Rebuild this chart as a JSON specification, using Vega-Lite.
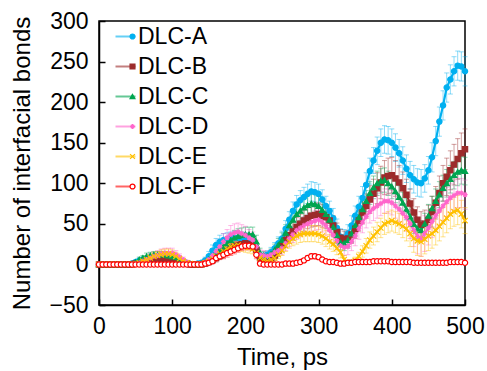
{
"$schema": "https://vega.github.io/schema/vega-lite/v6.json",
"width": 366, "height": 284,
"autosize": {"type": "none"},
"padding": {"left": 99, "top": 21, "right": 22, "bottom": 66},
"config": {
  "font": "Liberation Sans",
  "view": {"stroke": "black", "strokeWidth": 1.5},
  "axis": {"grid": false, "domainColor": "black", "domainWidth": 1.5, "tickColor": "black", "tickWidth": 1.5, "tickSize": -6, "labelFontSize": 23, "labelColor": "black", "titleFontSize": 24, "titleFontWeight": "normal", "titleColor": "black", "labelFont": "Liberation Sans", "titleFont": "Liberation Sans"}
},
"data": {"values": [
{"t":0,"s":"A","v":0,"e":0},{"t":5,"s":"A","v":0,"e":0},{"t":10,"s":"A","v":0,"e":0},{"t":15,"s":"A","v":0,"e":0},{"t":20,"s":"A","v":0,"e":0},{"t":25,"s":"A","v":0,"e":0},{"t":30,"s":"A","v":0,"e":0},{"t":35,"s":"A","v":0,"e":0},{"t":40,"s":"A","v":0,"e":0},{"t":45,"s":"A","v":1,"e":1},
{"t":50,"s":"A","v":3,"e":2},{"t":55,"s":"A","v":5,"e":2},{"t":60,"s":"A","v":6,"e":3},{"t":65,"s":"A","v":7,"e":3},{"t":70,"s":"A","v":8,"e":3},{"t":75,"s":"A","v":9,"e":3},{"t":80,"s":"A","v":10,"e":3},{"t":85,"s":"A","v":10,"e":3},{"t":90,"s":"A","v":9,"e":3},{"t":95,"s":"A","v":8,"e":3},
{"t":100,"s":"A","v":7,"e":3},{"t":105,"s":"A","v":5,"e":2},{"t":110,"s":"A","v":4,"e":2},{"t":115,"s":"A","v":2,"e":2},{"t":120,"s":"A","v":1,"e":1},{"t":125,"s":"A","v":0,"e":1},{"t":130,"s":"A","v":0,"e":1},{"t":135,"s":"A","v":1,"e":1},{"t":140,"s":"A","v":2,"e":2},{"t":145,"s":"A","v":5,"e":4},
{"t":150,"s":"A","v":10,"e":6},{"t":155,"s":"A","v":17,"e":7},{"t":160,"s":"A","v":24,"e":8},{"t":165,"s":"A","v":28,"e":8},{"t":170,"s":"A","v":30,"e":8},{"t":175,"s":"A","v":31,"e":8},{"t":180,"s":"A","v":32,"e":8},{"t":185,"s":"A","v":33,"e":8},{"t":190,"s":"A","v":33,"e":8},{"t":195,"s":"A","v":32,"e":8},
{"t":200,"s":"A","v":31,"e":8},{"t":205,"s":"A","v":29,"e":8},{"t":210,"s":"A","v":27,"e":8},{"t":215,"s":"A","v":20,"e":7},{"t":220,"s":"A","v":9,"e":5},{"t":225,"s":"A","v":10,"e":5},{"t":230,"s":"A","v":12,"e":5},{"t":235,"s":"A","v":15,"e":6},{"t":240,"s":"A","v":20,"e":7},{"t":245,"s":"A","v":26,"e":8},
{"t":250,"s":"A","v":32,"e":9},{"t":255,"s":"A","v":44,"e":10},{"t":260,"s":"A","v":55,"e":10},{"t":265,"s":"A","v":66,"e":11},{"t":270,"s":"A","v":74,"e":11},{"t":275,"s":"A","v":79,"e":12},{"t":280,"s":"A","v":83,"e":12},{"t":285,"s":"A","v":87,"e":12},{"t":290,"s":"A","v":90,"e":12},{"t":295,"s":"A","v":89,"e":12},
{"t":300,"s":"A","v":87,"e":12},{"t":305,"s":"A","v":80,"e":12},{"t":310,"s":"A","v":72,"e":12},{"t":315,"s":"A","v":66,"e":12},{"t":320,"s":"A","v":57,"e":12},{"t":325,"s":"A","v":45,"e":11},{"t":330,"s":"A","v":34,"e":10},{"t":335,"s":"A","v":33,"e":10},{"t":340,"s":"A","v":38,"e":11},{"t":345,"s":"A","v":48,"e":12},
{"t":350,"s":"A","v":60,"e":12},{"t":355,"s":"A","v":71,"e":13},{"t":360,"s":"A","v":82,"e":14},{"t":365,"s":"A","v":98,"e":15},{"t":370,"s":"A","v":115,"e":16},{"t":375,"s":"A","v":128,"e":16},{"t":380,"s":"A","v":140,"e":17},{"t":385,"s":"A","v":150,"e":17},{"t":390,"s":"A","v":154,"e":17},{"t":395,"s":"A","v":153,"e":17},
{"t":400,"s":"A","v":150,"e":17},{"t":405,"s":"A","v":144,"e":17},{"t":410,"s":"A","v":137,"e":17},{"t":415,"s":"A","v":128,"e":17},{"t":420,"s":"A","v":118,"e":17},{"t":425,"s":"A","v":110,"e":17},{"t":430,"s":"A","v":105,"e":17},{"t":435,"s":"A","v":101,"e":17},{"t":440,"s":"A","v":100,"e":17},{"t":445,"s":"A","v":106,"e":17},
{"t":450,"s":"A","v":116,"e":17},{"t":455,"s":"A","v":132,"e":18},{"t":460,"s":"A","v":152,"e":18},{"t":465,"s":"A","v":176,"e":18},{"t":470,"s":"A","v":196,"e":18},{"t":475,"s":"A","v":218,"e":18},{"t":480,"s":"A","v":228,"e":18},{"t":485,"s":"A","v":238,"e":18},{"t":490,"s":"A","v":245,"e":18},{"t":495,"s":"A","v":244,"e":18},{"t":500,"s":"A","v":238,"e":18},
{"t":0,"s":"B","v":0,"e":0},{"t":5,"s":"B","v":0,"e":0},{"t":10,"s":"B","v":0,"e":0},{"t":15,"s":"B","v":0,"e":0},{"t":20,"s":"B","v":0,"e":0},{"t":25,"s":"B","v":0,"e":0},{"t":30,"s":"B","v":0,"e":0},{"t":35,"s":"B","v":0,"e":0},{"t":40,"s":"B","v":0,"e":0},{"t":45,"s":"B","v":0,"e":0},
{"t":50,"s":"B","v":1,"e":1},{"t":55,"s":"B","v":1,"e":1},{"t":60,"s":"B","v":2,"e":1},{"t":65,"s":"B","v":3,"e":2},{"t":70,"s":"B","v":4,"e":2},{"t":75,"s":"B","v":5,"e":2},{"t":80,"s":"B","v":6,"e":2},{"t":85,"s":"B","v":7,"e":2},{"t":90,"s":"B","v":7,"e":2},{"t":95,"s":"B","v":7,"e":2},
{"t":100,"s":"B","v":6,"e":2},{"t":105,"s":"B","v":5,"e":2},{"t":110,"s":"B","v":4,"e":2},{"t":115,"s":"B","v":2,"e":1},{"t":120,"s":"B","v":1,"e":1},{"t":125,"s":"B","v":0,"e":0},{"t":130,"s":"B","v":0,"e":0},{"t":135,"s":"B","v":0,"e":0},{"t":140,"s":"B","v":0,"e":1},{"t":145,"s":"B","v":1,"e":2},
{"t":150,"s":"B","v":3,"e":3},{"t":155,"s":"B","v":5,"e":4},{"t":160,"s":"B","v":8,"e":5},{"t":165,"s":"B","v":11,"e":5},{"t":170,"s":"B","v":14,"e":6},{"t":175,"s":"B","v":17,"e":6},{"t":180,"s":"B","v":20,"e":6},{"t":185,"s":"B","v":22,"e":6},{"t":190,"s":"B","v":24,"e":6},{"t":195,"s":"B","v":25,"e":6},
{"t":200,"s":"B","v":26,"e":6},{"t":205,"s":"B","v":25,"e":6},{"t":210,"s":"B","v":24,"e":6},{"t":215,"s":"B","v":18,"e":5},{"t":220,"s":"B","v":8,"e":4},{"t":225,"s":"B","v":7,"e":4},{"t":230,"s":"B","v":6,"e":4},{"t":235,"s":"B","v":8,"e":5},{"t":240,"s":"B","v":11,"e":6},{"t":245,"s":"B","v":17,"e":7},
{"t":250,"s":"B","v":24,"e":8},{"t":255,"s":"B","v":30,"e":9},{"t":260,"s":"B","v":36,"e":10},{"t":265,"s":"B","v":41,"e":11},{"t":270,"s":"B","v":46,"e":12},{"t":275,"s":"B","v":50,"e":12},{"t":280,"s":"B","v":54,"e":13},{"t":285,"s":"B","v":57,"e":13},{"t":290,"s":"B","v":60,"e":14},{"t":295,"s":"B","v":61,"e":14},
{"t":300,"s":"B","v":62,"e":14},{"t":305,"s":"B","v":60,"e":14},{"t":310,"s":"B","v":58,"e":14},{"t":315,"s":"B","v":54,"e":13},{"t":320,"s":"B","v":48,"e":12},{"t":325,"s":"B","v":40,"e":11},{"t":330,"s":"B","v":33,"e":10},{"t":335,"s":"B","v":31,"e":10},{"t":340,"s":"B","v":32,"e":10},{"t":345,"s":"B","v":37,"e":11},
{"t":350,"s":"B","v":44,"e":12},{"t":355,"s":"B","v":54,"e":13},{"t":360,"s":"B","v":64,"e":14},{"t":365,"s":"B","v":72,"e":15},{"t":370,"s":"B","v":80,"e":17},{"t":375,"s":"B","v":87,"e":18},{"t":380,"s":"B","v":94,"e":19},{"t":385,"s":"B","v":101,"e":20},{"t":390,"s":"B","v":107,"e":21},{"t":395,"s":"B","v":109,"e":22},
{"t":400,"s":"B","v":110,"e":22},{"t":405,"s":"B","v":106,"e":22},{"t":410,"s":"B","v":101,"e":21},{"t":415,"s":"B","v":94,"e":20},{"t":420,"s":"B","v":86,"e":19},{"t":425,"s":"B","v":75,"e":18},{"t":430,"s":"B","v":64,"e":17},{"t":435,"s":"B","v":55,"e":16},{"t":440,"s":"B","v":49,"e":16},{"t":445,"s":"B","v":50,"e":17},
{"t":450,"s":"B","v":55,"e":18},{"t":455,"s":"B","v":65,"e":19},{"t":460,"s":"B","v":76,"e":20},{"t":465,"s":"B","v":88,"e":21},{"t":470,"s":"B","v":100,"e":22},{"t":475,"s":"B","v":108,"e":23},{"t":480,"s":"B","v":116,"e":24},{"t":485,"s":"B","v":123,"e":25},{"t":490,"s":"B","v":130,"e":25},{"t":495,"s":"B","v":137,"e":25},{"t":500,"s":"B","v":142,"e":25},
{"t":0,"s":"C","v":0,"e":0},{"t":5,"s":"C","v":0,"e":0},{"t":10,"s":"C","v":0,"e":0},{"t":15,"s":"C","v":0,"e":0},{"t":20,"s":"C","v":0,"e":0},{"t":25,"s":"C","v":0,"e":0},{"t":30,"s":"C","v":0,"e":0},{"t":35,"s":"C","v":0,"e":0},{"t":40,"s":"C","v":0,"e":0},{"t":45,"s":"C","v":1,"e":1},
{"t":50,"s":"C","v":3,"e":2},{"t":55,"s":"C","v":6,"e":3},{"t":60,"s":"C","v":8,"e":3},{"t":65,"s":"C","v":10,"e":4},{"t":70,"s":"C","v":11,"e":4},{"t":75,"s":"C","v":12,"e":4},{"t":80,"s":"C","v":12,"e":4},{"t":85,"s":"C","v":12,"e":4},{"t":90,"s":"C","v":12,"e":4},{"t":95,"s":"C","v":11,"e":4},
{"t":100,"s":"C","v":10,"e":3},{"t":105,"s":"C","v":9,"e":3},{"t":110,"s":"C","v":7,"e":3},{"t":115,"s":"C","v":4,"e":2},{"t":120,"s":"C","v":2,"e":2},{"t":125,"s":"C","v":1,"e":1},{"t":130,"s":"C","v":0,"e":1},{"t":135,"s":"C","v":0,"e":1},{"t":140,"s":"C","v":1,"e":1},{"t":145,"s":"C","v":3,"e":2},
{"t":150,"s":"C","v":6,"e":3},{"t":155,"s":"C","v":10,"e":4},{"t":160,"s":"C","v":14,"e":5},{"t":165,"s":"C","v":18,"e":6},{"t":170,"s":"C","v":22,"e":7},{"t":175,"s":"C","v":26,"e":8},{"t":180,"s":"C","v":30,"e":8},{"t":185,"s":"C","v":33,"e":9},{"t":190,"s":"C","v":35,"e":9},{"t":195,"s":"C","v":36,"e":9},
{"t":200,"s":"C","v":37,"e":9},{"t":205,"s":"C","v":37,"e":9},{"t":210,"s":"C","v":37,"e":9},{"t":215,"s":"C","v":28,"e":8},{"t":220,"s":"C","v":14,"e":6},{"t":225,"s":"C","v":11,"e":5},{"t":230,"s":"C","v":10,"e":5},{"t":235,"s":"C","v":13,"e":6},{"t":240,"s":"C","v":18,"e":7},{"t":245,"s":"C","v":24,"e":8},
{"t":250,"s":"C","v":30,"e":9},{"t":255,"s":"C","v":39,"e":10},{"t":260,"s":"C","v":48,"e":10},{"t":265,"s":"C","v":55,"e":11},{"t":270,"s":"C","v":62,"e":11},{"t":275,"s":"C","v":66,"e":12},{"t":280,"s":"C","v":70,"e":12},{"t":285,"s":"C","v":73,"e":12},{"t":290,"s":"C","v":75,"e":12},{"t":295,"s":"C","v":74,"e":12},
{"t":300,"s":"C","v":72,"e":12},{"t":305,"s":"C","v":67,"e":12},{"t":310,"s":"C","v":62,"e":12},{"t":315,"s":"C","v":55,"e":11},{"t":320,"s":"C","v":46,"e":11},{"t":325,"s":"C","v":36,"e":10},{"t":330,"s":"C","v":27,"e":9},{"t":335,"s":"C","v":26,"e":9},{"t":340,"s":"C","v":30,"e":10},{"t":345,"s":"C","v":38,"e":11},
{"t":350,"s":"C","v":48,"e":12},{"t":355,"s":"C","v":58,"e":12},{"t":360,"s":"C","v":68,"e":13},{"t":365,"s":"C","v":78,"e":13},{"t":370,"s":"C","v":88,"e":14},{"t":375,"s":"C","v":95,"e":14},{"t":380,"s":"C","v":100,"e":15},{"t":385,"s":"C","v":103,"e":15},{"t":390,"s":"C","v":104,"e":15},{"t":395,"s":"C","v":100,"e":15},
{"t":400,"s":"C","v":96,"e":15},{"t":405,"s":"C","v":90,"e":14},{"t":410,"s":"C","v":83,"e":14},{"t":415,"s":"C","v":76,"e":13},{"t":420,"s":"C","v":68,"e":13},{"t":425,"s":"C","v":59,"e":12},{"t":430,"s":"C","v":50,"e":12},{"t":435,"s":"C","v":44,"e":12},{"t":440,"s":"C","v":42,"e":12},{"t":445,"s":"C","v":50,"e":13},
{"t":450,"s":"C","v":60,"e":14},{"t":455,"s":"C","v":69,"e":15},{"t":460,"s":"C","v":78,"e":15},{"t":465,"s":"C","v":86,"e":16},{"t":470,"s":"C","v":94,"e":16},{"t":475,"s":"C","v":100,"e":17},{"t":480,"s":"C","v":105,"e":17},{"t":485,"s":"C","v":110,"e":17},{"t":490,"s":"C","v":114,"e":17},{"t":495,"s":"C","v":116,"e":17},{"t":500,"s":"C","v":115,"e":17},
{"t":0,"s":"D","v":0,"e":0},{"t":5,"s":"D","v":0,"e":0},{"t":10,"s":"D","v":0,"e":0},{"t":15,"s":"D","v":0,"e":0},{"t":20,"s":"D","v":0,"e":0},{"t":25,"s":"D","v":0,"e":0},{"t":30,"s":"D","v":0,"e":0},{"t":35,"s":"D","v":0,"e":0},{"t":40,"s":"D","v":0,"e":0},{"t":45,"s":"D","v":0,"e":0},
{"t":50,"s":"D","v":1,"e":1},{"t":55,"s":"D","v":2,"e":2},{"t":60,"s":"D","v":4,"e":3},{"t":65,"s":"D","v":6,"e":4},{"t":70,"s":"D","v":8,"e":5},{"t":75,"s":"D","v":10,"e":5},{"t":80,"s":"D","v":11,"e":6},{"t":85,"s":"D","v":13,"e":6},{"t":90,"s":"D","v":14,"e":6},{"t":95,"s":"D","v":14,"e":6},
{"t":100,"s":"D","v":14,"e":6},{"t":105,"s":"D","v":12,"e":5},{"t":110,"s":"D","v":9,"e":4},{"t":115,"s":"D","v":6,"e":3},{"t":120,"s":"D","v":3,"e":2},{"t":125,"s":"D","v":1,"e":1},{"t":130,"s":"D","v":0,"e":1},{"t":135,"s":"D","v":0,"e":1},{"t":140,"s":"D","v":1,"e":2},{"t":145,"s":"D","v":3,"e":3},
{"t":150,"s":"D","v":6,"e":4},{"t":155,"s":"D","v":11,"e":6},{"t":160,"s":"D","v":16,"e":8},{"t":165,"s":"D","v":22,"e":9},{"t":170,"s":"D","v":28,"e":10},{"t":175,"s":"D","v":33,"e":10},{"t":180,"s":"D","v":37,"e":11},{"t":185,"s":"D","v":39,"e":11},{"t":190,"s":"D","v":40,"e":11},{"t":195,"s":"D","v":38,"e":11},
{"t":200,"s":"D","v":36,"e":11},{"t":205,"s":"D","v":33,"e":10},{"t":210,"s":"D","v":30,"e":10},{"t":215,"s":"D","v":22,"e":8},{"t":220,"s":"D","v":12,"e":6},{"t":225,"s":"D","v":11,"e":6},{"t":230,"s":"D","v":10,"e":6},{"t":235,"s":"D","v":12,"e":6},{"t":240,"s":"D","v":15,"e":7},{"t":245,"s":"D","v":17,"e":7},
{"t":250,"s":"D","v":20,"e":8},{"t":255,"s":"D","v":26,"e":9},{"t":260,"s":"D","v":32,"e":10},{"t":265,"s":"D","v":37,"e":10},{"t":270,"s":"D","v":42,"e":11},{"t":275,"s":"D","v":45,"e":11},{"t":280,"s":"D","v":48,"e":11},{"t":285,"s":"D","v":50,"e":12},{"t":290,"s":"D","v":52,"e":12},{"t":295,"s":"D","v":54,"e":12},
{"t":300,"s":"D","v":55,"e":12},{"t":305,"s":"D","v":52,"e":12},{"t":310,"s":"D","v":48,"e":12},{"t":315,"s":"D","v":42,"e":11},{"t":320,"s":"D","v":36,"e":11},{"t":325,"s":"D","v":29,"e":10},{"t":330,"s":"D","v":23,"e":10},{"t":335,"s":"D","v":21,"e":10},{"t":340,"s":"D","v":22,"e":10},{"t":345,"s":"D","v":28,"e":11},
{"t":350,"s":"D","v":35,"e":12},{"t":355,"s":"D","v":44,"e":13},{"t":360,"s":"D","v":52,"e":13},{"t":365,"s":"D","v":59,"e":14},{"t":370,"s":"D","v":65,"e":14},{"t":375,"s":"D","v":69,"e":15},{"t":380,"s":"D","v":72,"e":15},{"t":385,"s":"D","v":75,"e":15},{"t":390,"s":"D","v":78,"e":15},{"t":395,"s":"D","v":78,"e":15},
{"t":400,"s":"D","v":76,"e":15},{"t":405,"s":"D","v":72,"e":15},{"t":410,"s":"D","v":68,"e":15},{"t":415,"s":"D","v":63,"e":16},{"t":420,"s":"D","v":58,"e":17},{"t":425,"s":"D","v":50,"e":18},{"t":430,"s":"D","v":42,"e":20},{"t":435,"s":"D","v":35,"e":22},{"t":440,"s":"D","v":32,"e":22},{"t":445,"s":"D","v":38,"e":22},
{"t":450,"s":"D","v":45,"e":21},{"t":455,"s":"D","v":53,"e":20},{"t":460,"s":"D","v":60,"e":19},{"t":465,"s":"D","v":66,"e":18},{"t":470,"s":"D","v":72,"e":18},{"t":475,"s":"D","v":77,"e":18},{"t":480,"s":"D","v":82,"e":18},{"t":485,"s":"D","v":85,"e":18},{"t":490,"s":"D","v":88,"e":18},{"t":495,"s":"D","v":88,"e":18},{"t":500,"s":"D","v":86,"e":18},
{"t":0,"s":"E","v":0,"e":0},{"t":5,"s":"E","v":0,"e":0},{"t":10,"s":"E","v":0,"e":0},{"t":15,"s":"E","v":0,"e":0},{"t":20,"s":"E","v":0,"e":0},{"t":25,"s":"E","v":0,"e":0},{"t":30,"s":"E","v":0,"e":0},{"t":35,"s":"E","v":0,"e":0},{"t":40,"s":"E","v":0,"e":0},{"t":45,"s":"E","v":0,"e":0},
{"t":50,"s":"E","v":0,"e":0},{"t":55,"s":"E","v":2,"e":1},{"t":60,"s":"E","v":4,"e":2},{"t":65,"s":"E","v":6,"e":3},{"t":70,"s":"E","v":8,"e":4},{"t":75,"s":"E","v":10,"e":5},{"t":80,"s":"E","v":11,"e":5},{"t":85,"s":"E","v":12,"e":6},{"t":90,"s":"E","v":13,"e":6},{"t":95,"s":"E","v":13,"e":6},
{"t":100,"s":"E","v":12,"e":6},{"t":105,"s":"E","v":10,"e":5},{"t":110,"s":"E","v":7,"e":4},{"t":115,"s":"E","v":4,"e":3},{"t":120,"s":"E","v":2,"e":2},{"t":125,"s":"E","v":1,"e":1},{"t":130,"s":"E","v":0,"e":1},{"t":135,"s":"E","v":0,"e":0},{"t":140,"s":"E","v":0,"e":1},{"t":145,"s":"E","v":2,"e":2},
{"t":150,"s":"E","v":4,"e":3},{"t":155,"s":"E","v":7,"e":4},{"t":160,"s":"E","v":10,"e":5},{"t":165,"s":"E","v":13,"e":5},{"t":170,"s":"E","v":16,"e":6},{"t":175,"s":"E","v":19,"e":6},{"t":180,"s":"E","v":22,"e":7},{"t":185,"s":"E","v":23,"e":7},{"t":190,"s":"E","v":24,"e":7},{"t":195,"s":"E","v":23,"e":7},
{"t":200,"s":"E","v":22,"e":7},{"t":205,"s":"E","v":21,"e":7},{"t":210,"s":"E","v":19,"e":6},{"t":215,"s":"E","v":14,"e":5},{"t":220,"s":"E","v":8,"e":4},{"t":225,"s":"E","v":6,"e":3},{"t":230,"s":"E","v":4,"e":3},{"t":235,"s":"E","v":6,"e":3},{"t":240,"s":"E","v":8,"e":4},{"t":245,"s":"E","v":12,"e":5},
{"t":250,"s":"E","v":17,"e":6},{"t":255,"s":"E","v":23,"e":7},{"t":260,"s":"E","v":28,"e":8},{"t":265,"s":"E","v":32,"e":9},{"t":270,"s":"E","v":35,"e":10},{"t":275,"s":"E","v":37,"e":10},{"t":280,"s":"E","v":38,"e":10},{"t":285,"s":"E","v":38,"e":10},{"t":290,"s":"E","v":38,"e":10},{"t":295,"s":"E","v":38,"e":10},
{"t":300,"s":"E","v":37,"e":10},{"t":305,"s":"E","v":35,"e":10},{"t":310,"s":"E","v":32,"e":10},{"t":315,"s":"E","v":28,"e":9},{"t":320,"s":"E","v":25,"e":9},{"t":325,"s":"E","v":20,"e":8},{"t":330,"s":"E","v":15,"e":7},{"t":335,"s":"E","v":6,"e":5},{"t":340,"s":"E","v":2,"e":3},{"t":345,"s":"E","v":3,"e":3},
{"t":350,"s":"E","v":5,"e":4},{"t":355,"s":"E","v":10,"e":5},{"t":360,"s":"E","v":16,"e":7},{"t":365,"s":"E","v":23,"e":9},{"t":370,"s":"E","v":30,"e":10},{"t":375,"s":"E","v":35,"e":11},{"t":380,"s":"E","v":40,"e":12},{"t":385,"s":"E","v":45,"e":12},{"t":390,"s":"E","v":50,"e":13},{"t":395,"s":"E","v":52,"e":13},
{"t":400,"s":"E","v":54,"e":13},{"t":405,"s":"E","v":52,"e":13},{"t":410,"s":"E","v":50,"e":13},{"t":415,"s":"E","v":47,"e":14},{"t":420,"s":"E","v":44,"e":15},{"t":425,"s":"E","v":38,"e":16},{"t":430,"s":"E","v":32,"e":17},{"t":435,"s":"E","v":29,"e":18},{"t":440,"s":"E","v":28,"e":18},{"t":445,"s":"E","v":31,"e":18},
{"t":450,"s":"E","v":35,"e":18},{"t":455,"s":"E","v":38,"e":18},{"t":460,"s":"E","v":42,"e":18},{"t":465,"s":"E","v":47,"e":18},{"t":470,"s":"E","v":52,"e":18},{"t":475,"s":"E","v":57,"e":18},{"t":480,"s":"E","v":62,"e":18},{"t":485,"s":"E","v":65,"e":18},{"t":490,"s":"E","v":67,"e":18},{"t":495,"s":"E","v":62,"e":17},{"t":500,"s":"E","v":54,"e":16},
{"t":0,"s":"F","v":0,"e":0},{"t":5,"s":"F","v":0,"e":0},{"t":10,"s":"F","v":0,"e":0},{"t":15,"s":"F","v":0,"e":0},{"t":20,"s":"F","v":0,"e":0},{"t":25,"s":"F","v":0,"e":0},{"t":30,"s":"F","v":0,"e":0},{"t":35,"s":"F","v":0,"e":0},{"t":40,"s":"F","v":0,"e":0},{"t":45,"s":"F","v":0,"e":0},
{"t":50,"s":"F","v":0,"e":0},{"t":55,"s":"F","v":0,"e":0},{"t":60,"s":"F","v":0,"e":0},{"t":65,"s":"F","v":0,"e":0},{"t":70,"s":"F","v":0,"e":0},{"t":75,"s":"F","v":0,"e":0},{"t":80,"s":"F","v":0,"e":0},{"t":85,"s":"F","v":0,"e":0},{"t":90,"s":"F","v":0,"e":0},{"t":95,"s":"F","v":0,"e":0},
{"t":100,"s":"F","v":0,"e":0},{"t":105,"s":"F","v":0,"e":0},{"t":110,"s":"F","v":0,"e":0},{"t":115,"s":"F","v":0,"e":0},{"t":120,"s":"F","v":0,"e":0},{"t":125,"s":"F","v":0,"e":0},{"t":130,"s":"F","v":0,"e":0},{"t":135,"s":"F","v":0,"e":0},{"t":140,"s":"F","v":0,"e":0},{"t":145,"s":"F","v":1,"e":1},
{"t":150,"s":"F","v":2,"e":2},{"t":155,"s":"F","v":4,"e":3},{"t":160,"s":"F","v":8,"e":4},{"t":165,"s":"F","v":10,"e":4},{"t":170,"s":"F","v":12,"e":5},{"t":175,"s":"F","v":14,"e":5},{"t":180,"s":"F","v":16,"e":5},{"t":185,"s":"F","v":18,"e":5},{"t":190,"s":"F","v":20,"e":5},{"t":195,"s":"F","v":22,"e":5},
{"t":200,"s":"F","v":23,"e":5},{"t":205,"s":"F","v":23,"e":5},{"t":210,"s":"F","v":22,"e":5},{"t":215,"s":"F","v":12,"e":5},{"t":220,"s":"F","v":1,"e":1},{"t":225,"s":"F","v":0,"e":1},{"t":230,"s":"F","v":0,"e":0},{"t":235,"s":"F","v":0,"e":0},{"t":240,"s":"F","v":0,"e":0},{"t":245,"s":"F","v":0,"e":0},
{"t":250,"s":"F","v":0,"e":0},{"t":255,"s":"F","v":1,"e":1},{"t":260,"s":"F","v":1,"e":1},{"t":265,"s":"F","v":1,"e":1},{"t":270,"s":"F","v":2,"e":1},{"t":275,"s":"F","v":3,"e":2},{"t":280,"s":"F","v":5,"e":2},{"t":285,"s":"F","v":8,"e":3},{"t":290,"s":"F","v":10,"e":3},{"t":295,"s":"F","v":10,"e":3},
{"t":300,"s":"F","v":9,"e":3},{"t":305,"s":"F","v":6,"e":2},{"t":310,"s":"F","v":4,"e":2},{"t":315,"s":"F","v":3,"e":2},{"t":320,"s":"F","v":3,"e":1},{"t":325,"s":"F","v":2,"e":1},{"t":330,"s":"F","v":1,"e":1},{"t":335,"s":"F","v":1,"e":1},{"t":340,"s":"F","v":2,"e":1},{"t":345,"s":"F","v":2,"e":1},
{"t":350,"s":"F","v":3,"e":1},{"t":355,"s":"F","v":3,"e":1},{"t":360,"s":"F","v":3,"e":1},{"t":365,"s":"F","v":3,"e":1},{"t":370,"s":"F","v":3,"e":1},{"t":375,"s":"F","v":4,"e":1},{"t":380,"s":"F","v":4,"e":1},{"t":385,"s":"F","v":4,"e":1},{"t":390,"s":"F","v":4,"e":1},{"t":395,"s":"F","v":4,"e":1},
{"t":400,"s":"F","v":3,"e":1},{"t":405,"s":"F","v":3,"e":1},{"t":410,"s":"F","v":3,"e":1},{"t":415,"s":"F","v":3,"e":1},{"t":420,"s":"F","v":3,"e":1},{"t":425,"s":"F","v":3,"e":1},{"t":430,"s":"F","v":2,"e":1},{"t":435,"s":"F","v":2,"e":1},{"t":440,"s":"F","v":2,"e":1},{"t":445,"s":"F","v":2,"e":1},
{"t":450,"s":"F","v":2,"e":1},{"t":455,"s":"F","v":2,"e":1},{"t":460,"s":"F","v":2,"e":1},{"t":465,"s":"F","v":2,"e":1},{"t":470,"s":"F","v":2,"e":1},{"t":475,"s":"F","v":2,"e":1},{"t":480,"s":"F","v":3,"e":1},{"t":485,"s":"F","v":3,"e":1},{"t":490,"s":"F","v":3,"e":1},{"t":495,"s":"F","v":3,"e":1},{"t":500,"s":"F","v":2,"e":1}
]},
"encoding": {
  "x": {"field": "t", "type": "quantitative", "scale": {"domain": [0, 500], "nice": false},
        "axis": {"title": "Time, ps", "values": [0,100,200,300,400,500], "labelPadding": 16, "titlePadding": 7, "labelFlush": false}},
  "y": {"field": "v", "type": "quantitative", "scale": {"domain": [-50, 300], "nice": false},
        "axis": {"title": "Number of interfacial bonds", "values": [-50,0,50,100,150,200,250,300], "labelPadding": 17, "titlePadding": 14}}
},
"layer": [
  {"mark": {"type": "errorbar", "ticks": {"size": 5, "opacity": 0.45, "strokeWidth": 1}, "rule": {"opacity": 0.45, "strokeWidth": 1}},
   "encoding": {"yError": {"field": "e"},
     "color": {"field": "s", "type": "nominal",
       "scale": {"domain": ["A","B","C","D","E","F"], "range": ["#00B0F0","#9C2B2B","#00A550","#FF66CC","#FFC000","#FF0000"]},
       "legend": {"orient": "none", "legendX": 15, "legendY": 4, "title": null, "symbolType": "stroke", "symbolSize": 400, "symbolStrokeWidth": 2, "symbolOpacity": 0.6, "labelFontSize": 23, "labelColor": "black", "labelFont": "Liberation Sans", "labelExpr": "'DLC-' + datum.label", "rowPadding": 6, "labelOffset": 1, "padding": 0}}}},
  {"mark": {"type": "line", "strokeWidth": 2.2},
   "encoding": {
     "color": {"field": "s", "type": "nominal",
       "scale": {"domain": ["A","B","C","D","E","F"], "range": ["#00B0F0","#9C2B2B","#00A550","#FF66CC","#FFC000","#FF0000"]},
       "legend": {"orient": "none", "legendX": 15, "legendY": 4, "title": null, "symbolType": "stroke", "symbolSize": 400, "symbolStrokeWidth": 2, "symbolOpacity": 0.6, "labelFontSize": 23, "labelColor": "black", "labelFont": "Liberation Sans", "labelExpr": "'DLC-' + datum.label", "rowPadding": 6, "labelOffset": 1, "padding": 0}}}},
  {"mark": {"type": "point", "filled": false, "size": 28, "strokeWidth": 1.2, "opacity": 1},
   "encoding": {
     "stroke": {"field": "s", "type": "nominal", "legend": null,
       "scale": {"range": ["#00B0F0","#9C2B2B","#00A550","#FF66CC","#FFC000","#FF0000"]}},
     "fill": {"field": "s", "type": "nominal", "legend": null,
       "scale": {"range": ["#00B0F0","#9C2B2B","#00A550","#FF66CC","#FFC000","#FFFFFF"]}},
     "shape": {"field": "s", "type": "nominal",
       "scale": {"range": ["circle","square","triangle-up","M-1,0L1,0M0,-1L0,1M-0.7,-0.7L0.7,0.7M-0.7,0.7L0.7,-0.7","M-1,-1L1,1M-1,1L1,-1","circle"]},
       "legend": {"orient": "top-left", "offset": 4, "symbolOffset": 18, "title": null, "symbolSize": 24, "symbolStrokeWidth": 1.2, "labelFontSize": 23, "labelExpr": "''", "rowPadding": 6, "padding": 0,
         "encode": {"symbols": {"update": {"fill": {"scale": "fill", "field": "value"}, "stroke": {"scale": "stroke", "field": "value"}}}}}}
   }}
]
}
